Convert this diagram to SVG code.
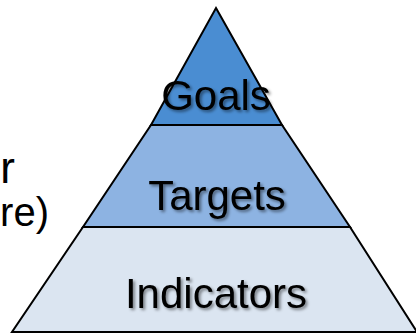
<svg xmlns="http://www.w3.org/2000/svg" width="416" height="334" viewBox="0 0 416 334">
<style>
.tier{stroke:#000;stroke-width:2;stroke-linejoin:miter}
.lbl{font-family:"Liberation Sans",Arial,sans-serif;font-size:42px;fill:#000;text-anchor:middle}
.side{font-family:"Liberation Sans",Arial,sans-serif;font-size:40px;fill:#000;text-anchor:end}
</style>
<defs>
<filter id="sh" x="-10%" y="-20%" width="130%" height="150%">
<feDropShadow dx="2" dy="2" stdDeviation="1.5" flood-color="#000" flood-opacity="0.45"/>
</filter>
</defs>
<rect width="416" height="334" fill="#fff"/>
<g id="side-text">
<text class="side" x="15" y="183" style="font-size:44px">r</text>
<text class="side" x="49" y="226">re)</text>
</g>
<g id="indicators">
<polygon class="tier" fill="#DBE5F1" points="83,227 350,227 417,332 12,332"/>
<text class="lbl" x="216" y="308" filter="url(#sh)">Indicators</text>
</g>
<g id="targets">
<polygon class="tier" fill="#8DB3E2" points="151,125 282,125 350,227 83,227"/>
<text class="lbl" x="217" y="210" filter="url(#sh)">Targets</text>
</g>
<g id="goals">
<polygon class="tier" fill="#4A8DD2" points="216,8 282,125 151,125"/>
<text class="lbl" x="216" y="110" filter="url(#sh)">Goals</text>
</g>
</svg>
